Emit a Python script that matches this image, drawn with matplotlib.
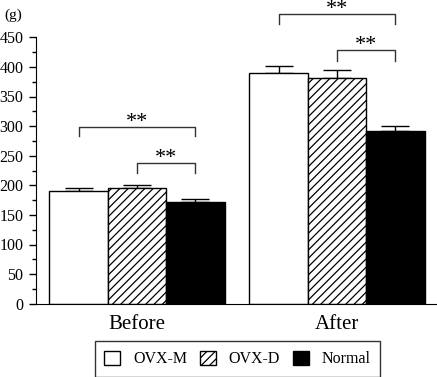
import matplotlib.pyplot as plt
import numpy as np
from matplotlib.patches import Patch

plt.rcParams['font.family'] = ['Liberation Serif', 'DejaVu Serif']
plt.rcParams['hatch.linewidth'] = 0.9

# Donnees
groupes = ['Before', 'After']
series = ['OVX-M', 'OVX-D', 'Normal']
ovx_m = [190, 389]
ovx_m_err = [5, 12]
ovx_d = [195, 382]
ovx_d_err = [5, 13]
normal = [172, 291]
normal_err = [5, 10]

# Crochets de significativite : (groupe, barre gauche, barre droite, hauteur, descente)
crochets = [
    (0, 0, 2, 299, 283),
    (0, 1, 2, 237, 221),
    (1, 0, 2, 489, 472),
    (1, 1, 2, 429, 410),
]

valeurs = [ovx_m, ovx_d, normal]
erreurs = [ovx_m_err, ovx_d_err, normal_err]
couleurs = ['white', 'white', 'black']
hachures = [None, '////', None]

fig = plt.figure(figsize=(4.37, 3.77), dpi=100)
ax = fig.add_axes([36 / 437, 73.3 / 377, 401 / 437, 266.4 / 377])

x = np.arange(len(groupes))
largeur = 0.292
decalages = [-largeur, 0, largeur]

for val, err, c, h, d in zip(valeurs, erreurs, couleurs, hachures, decalages):
    ax.bar(x + d, val, largeur, color=c, edgecolor='black', linewidth=1.0,
           hatch=h, zorder=2)
    ax.errorbar(x + d, val, yerr=[np.zeros(len(err)), err], fmt='none',
                ecolor='black', elinewidth=1.0, capsize=10, capthick=1.0,
                zorder=1)

# Crochets et etoiles
for g, i, j, haut, bas in crochets:
    x1 = x[g] + decalages[i]
    x2 = x[g] + decalages[j]
    ax.plot([x1, x1, x2, x2], [bas, haut, haut, bas], color='#333333',
            linewidth=1.0, clip_on=False)
    ax.annotate('**', xy=((x1 + x2) / 2, haut), xytext=(0, 0),
                textcoords='offset points', ha='center', va='baseline',
                fontsize=16, annotation_clip=False)

ax.set_xlim(-0.505, 1.5)
ax.set_ylim(0, 450)
ax.set_yticks(np.arange(0, 451, 50))
ax.set_yticks(np.arange(25, 450, 50), minor=True)
ax.set_xticks(x)
ax.set_xticklabels(groupes, fontsize=15)
ax.tick_params(axis='x', length=0, pad=8)
ax.tick_params(axis='y', which='major', length=5, width=1, labelsize=11.5, pad=4)
ax.tick_params(axis='y', which='minor', length=3, width=1)

ax.spines['top'].set_visible(False)
ax.spines['right'].set_visible(False)

fig.text(4 / 437, 1 - 15 / 377, '(g)', fontsize=11, va='center', ha='left')

poignees = [Patch(facecolor=c, edgecolor='black', hatch=h, linewidth=1.0)
            for c, h in zip(couleurs, hachures)]
leg = fig.legend(poignees, series, loc='center', ncol=3,
                 bbox_to_anchor=(237.5 / 437, 1 - 359 / 377),
                 fontsize=11.5, frameon=True, fancybox=False,
                 edgecolor='black', handlelength=1.0, handleheight=1.0,
                 handletextpad=0.8, columnspacing=0.8, borderpad=0.6)
leg.get_frame().set_linewidth(1.0)

fig.savefig('out.png', dpi=100)
